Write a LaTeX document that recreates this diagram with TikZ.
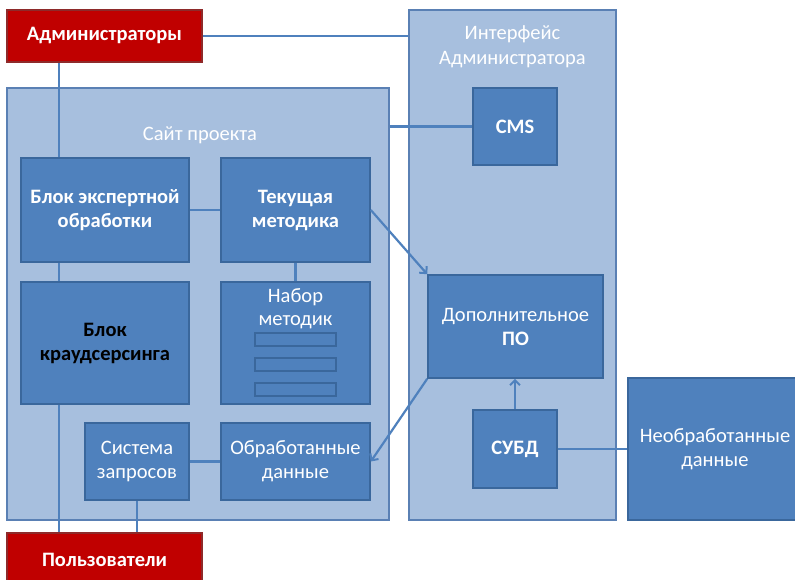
\documentclass[tikz,border=0pt]{standalone}
\usepackage{fontspec}
\setmainfont{Carlito}
\usepackage{tikz}
\usetikzlibrary{arrows.meta}
\definecolor{boxblue}{HTML}{4F81BD}
\definecolor{boxedge}{HTML}{3A679C}
\definecolor{paleblue}{HTML}{A7BFDE}
\definecolor{paleedge}{HTML}{5A80B4}
\definecolor{usered}{HTML}{C00000}
\definecolor{rededge}{HTML}{8E2A2A}
\newcommand{\bigtxt}{\fontsize{20.5}{24}\selectfont}
\tikzset{
  box/.style={rectangle,draw=boxedge,fill=boxblue,line width=1.6pt,text=white,
    align=center,inner sep=2pt,font=\bigtxt},
  frame/.style={rectangle,draw=paleedge,fill=paleblue,line width=1.6pt},
  actor/.style={box,draw=rededge,fill=usered,font=\bigtxt\bfseries},
  link/.style={draw=boxblue,line width=2.2pt},
  flow/.style={link,-{Straight Barb[length=5pt,width=10pt,line width=2pt]}},
  slot/.style={draw=boxedge,fill=boxblue,line width=1.3pt}
}
\begin{document}
\begin{tikzpicture}[x=1pt,y=-1pt]
\clip (0,0) rectangle (795,579);
\fill[white] (0,0) rectangle (795,579);
% containers
\node[frame,minimum width=382pt,minimum height=432pt] (site) at (198,304) {};
\node[frame,minimum width=207pt,minimum height=510pt] (iface) at (512.5,265) {};
\node[text=white,font=\bigtxt] (sitet) at (200,135) {Сайт проекта};
\node[text=white,align=center,font=\fontsize{20.5}{25}\selectfont] (ifacet) at (512.5,47)
  {Интерфейс\\Администратора};
% actors
\node[actor,minimum width=195pt,minimum height=52pt] (adm) at (104.5,36) {Администраторы};
\node[actor,minimum width=195pt,minimum height=54pt] (users) at (104.5,560) {};
\node[text=white,font=\bigtxt\bfseries] (userst) at (104.5,560) {Пользователи};
% site blocks
\node[box,font=\bigtxt\bfseries,minimum width=168pt,minimum height=104pt] (expert) at (105,210)
  {Блок экспертной\\обработки};
\node[box,font=\bigtxt\bfseries,minimum width=149pt,minimum height=104pt] (cur) at (295.5,210)
  {Текущая\\методика};
\node[box,text=black,font=\bigtxt\bfseries,minimum width=168pt,minimum height=122pt] (crowd) at (105,343)
  {Блок\\краудсерсинга};
\node[box,minimum width=149pt,minimum height=122pt] (nabor) at (295.5,343) {};
\node[text=white,align=center,font=\fontsize{20.5}{23}\selectfont] (nabort) at (295.5,309) {Набор\\методик};
\foreach \y in {339.5,364.5,389.5}
  \draw[slot] (255,\y-6.5) rectangle (336,\y+6.5);
\node[box,minimum width=104pt,minimum height=77pt] (query) at (137,461.5) {Система\\запросов};
\node[box,minimum width=149pt,minimum height=77pt] (proc) at (295.5,461.5) {Обработанные\\данные};
% admin interface
\node[box,font=\bigtxt\bfseries,minimum width=84pt,minimum height=77pt] (cms) at (515,126.5) {CMS};
\node[box,minimum width=175pt,minimum height=103pt] (dop) at (515.5,326.5)
  {Дополнительное\\\textbf{ПО}};
\node[box,font=\bigtxt\bfseries,minimum width=84pt,minimum height=78pt] (subd) at (515,449) {СУБД};
\node[box,minimum width=174pt,minimum height=142pt] (raw) at (715,449) {Необработанные\\данные};
% connectors
\draw[link] (adm.east) -- (iface.west |- adm.east);
\draw[link] ([xshift=39pt]expert.north west |- adm.south) -- ([xshift=39pt]expert.north west);
\draw[link] (site.east |- cms.west) -- (cms.west);
\draw[link] (expert.east) -- (cur.west);
\draw[link] (cur.south) -- (nabor.north);
\draw[link] ([xshift=39pt]expert.south west) -- ([xshift=39pt]crowd.north west);
\draw[link] ([xshift=39pt]crowd.south west) -- ([xshift=39pt]crowd.south west |- users.north);
\draw[link] (query.south) -- (query.south |- users.north);
\draw[link] (query.east) -- (proc.west);
\draw[link] (subd.east) -- (raw.west);
\draw[flow] (cur.east) -- (dop.north west);
\draw[flow] (dop.south west) -- (proc.east);
\draw[flow] (subd.north) -- (subd.north |- dop.south);
\end{tikzpicture}
\end{document}
